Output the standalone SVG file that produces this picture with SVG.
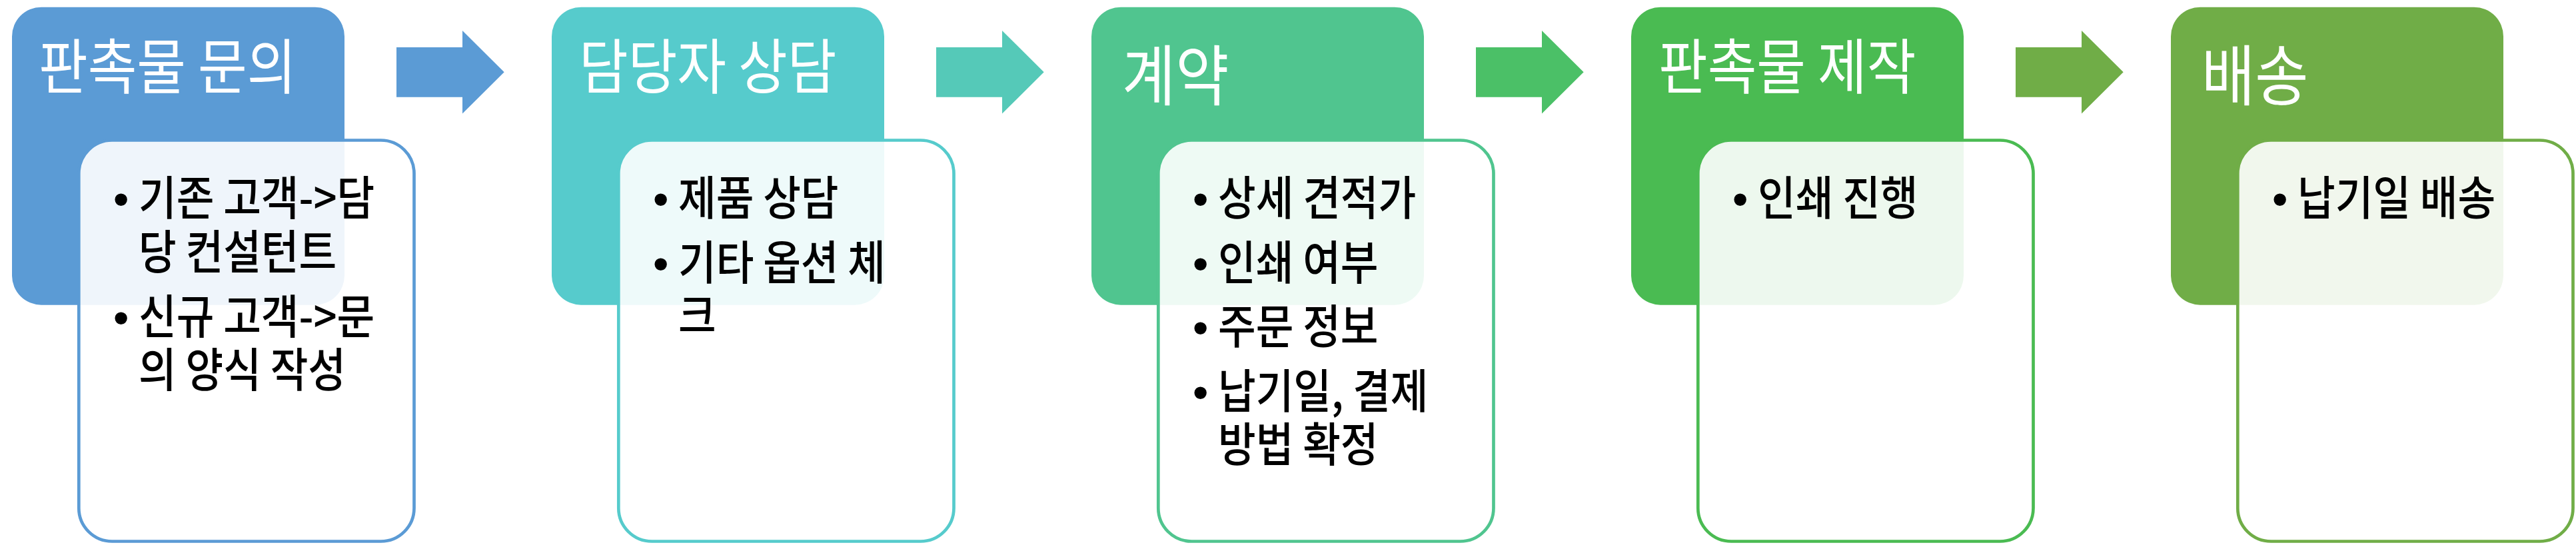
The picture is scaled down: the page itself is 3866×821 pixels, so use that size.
<svg xmlns="http://www.w3.org/2000/svg" width="3866" height="821" viewBox="0 0 3866 821">
<style>
.hdr{stroke:none}
.body{fill:#ffffff;fill-opacity:0.9;stroke-width:4.7}
.title{font-family:"Noto Sans CJK KR","Noto Sans",sans-serif;font-size:90px;fill:#ffffff;font-weight:400}
.title2{font-size:99px}
.txt{font-family:"Noto Sans CJK KR","Noto Sans",sans-serif;font-size:70px;fill:#000000;font-weight:500}
.bul{font-family:"Liberation Sans",Arial,sans-serif;font-size:68px;fill:#000000;text-anchor:middle}
.c1{fill:#5B9BD5}.s1{stroke:#5B9BD5}
.c2{fill:#56CBCC}.s2{stroke:#56CBCC}
.c3{fill:#50C58F}.s3{stroke:#50C58F}
.c4{fill:#4ABB52}.s4{stroke:#4ABB52}
.c5{fill:#70AD47}.s5{stroke:#70AD47}
.a1{fill:#5B9BD5}.a2{fill:#55C9B8}.a3{fill:#4BC067}.a4{fill:#70AD47}
</style>
<defs>
<polygon id="arrow" points="0,25 99,25 99,0 161.7,62.3 99,124.5 99,99.7 0,99.7"/>
</defs>
<rect width="3866" height="821" fill="#ffffff"/>

<g id="connectors">
<use href="#arrow" class="a1" x="595" y="46"/>
<use href="#arrow" class="a2" x="1405" y="46"/>
<use href="#arrow" class="a3" x="2215" y="46"/>
<use href="#arrow" class="a4" x="3025" y="46"/>
</g>

<g id="node-1">
<rect class="hdr c1" x="18" y="10.7" width="499" height="447" rx="44"/>
<text class="title" transform="translate(58,133) scale(0.89,1)">판촉물 문의</text>
<rect class="body s1" x="118.3" y="210.5" width="503.2" height="602" rx="50"/>
<text class="bul" x="181.7" y="322">•</text>
<text class="txt" transform="translate(208,323) scale(0.88,1)"><tspan x="0" y="0">기존 고객-&gt;담</tspan><tspan x="0" y="81">당 컨설턴트</tspan></text>
<text class="bul" x="181.7" y="499.5">•</text>
<text class="txt" transform="translate(208,500.5) scale(0.88,1)"><tspan x="0" y="0">신규 고객-&gt;문</tspan><tspan x="0" y="81">의 양식 작성</tspan></text>
</g>

<g id="node-2">
<rect class="hdr c2" x="828" y="10.7" width="499" height="447" rx="44"/>
<text class="title" transform="translate(869,133) scale(0.89,1)">담당자 상담</text>
<rect class="body s2" x="928.3" y="210.5" width="503.2" height="602" rx="50"/>
<text class="bul" x="991.7" y="322">•</text>
<text class="txt" transform="translate(1018,323) scale(0.88,1)">제품 상담</text>
<text class="bul" x="991.7" y="418.5">•</text>
<text class="txt" transform="translate(1018,419.5) scale(0.88,1)"><tspan x="0" y="0">기타 옵션 체</tspan><tspan x="0" y="81">크</tspan></text>
</g>

<g id="node-3">
<rect class="hdr c3" x="1638" y="10.7" width="499" height="447" rx="44"/>
<text class="title title2" transform="translate(1684,150) scale(0.88,1)">계약</text>
<rect class="body s3" x="1738.3" y="210.5" width="503.2" height="602" rx="50"/>
<text class="bul" x="1801.7" y="322">•</text>
<text class="txt" transform="translate(1828,323) scale(0.88,1)">상세 견적가</text>
<text class="bul" x="1801.7" y="418.5">•</text>
<text class="txt" transform="translate(1828,419.5) scale(0.88,1)">인쇄 여부</text>
<text class="bul" x="1801.7" y="515">•</text>
<text class="txt" transform="translate(1828,516) scale(0.88,1)">주문 정보</text>
<text class="bul" x="1801.7" y="611.5">•</text>
<text class="txt" transform="translate(1828,612.5) scale(0.88,1)"><tspan x="0" y="0">납기일, 결제</tspan><tspan x="0" y="81">방법 확정</tspan></text>
</g>

<g id="node-4">
<rect class="hdr c4" x="2448" y="10.7" width="499" height="447" rx="44"/>
<text class="title" transform="translate(2489,133) scale(0.89,1)">판촉물 제작</text>
<rect class="body s4" x="2548.3" y="210.5" width="503.2" height="602" rx="50"/>
<text class="bul" x="2611.7" y="322">•</text>
<text class="txt" transform="translate(2638,323) scale(0.88,1)">인쇄 진행</text>
</g>

<g id="node-5">
<rect class="hdr c5" x="3258" y="10.7" width="499" height="447" rx="44"/>
<text class="title title2" transform="translate(3304,150) scale(0.88,1)">배송</text>
<rect class="body s5" x="3358.3" y="210.5" width="503.2" height="602" rx="50"/>
<text class="bul" x="3421.7" y="322">•</text>
<text class="txt" transform="translate(3448,323) scale(0.88,1)">납기일 배송</text>
</g>
</svg>
